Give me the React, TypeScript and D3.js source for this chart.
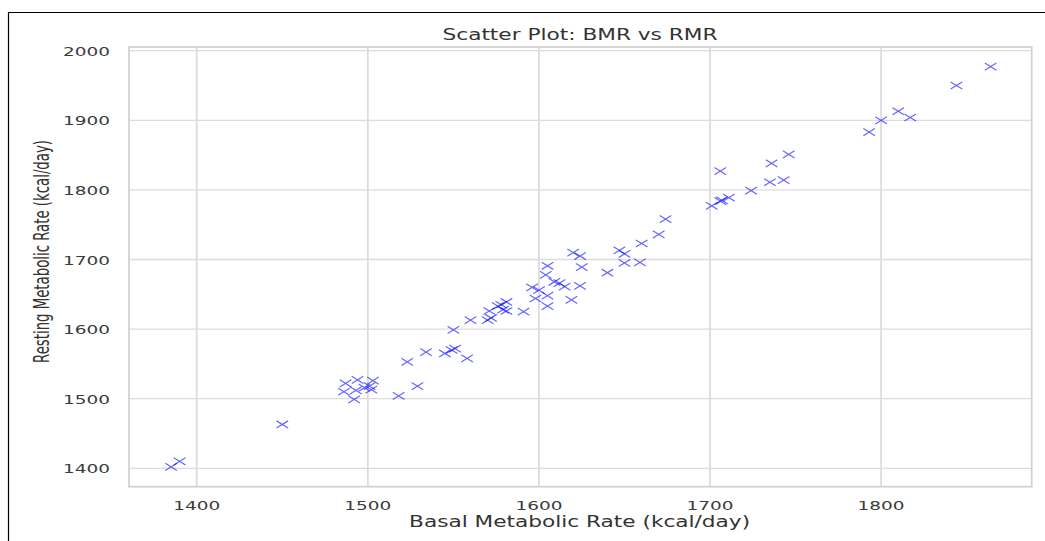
import React, { useEffect, useRef } from 'react';
import * as d3 from 'd3';

// Basal vs resting metabolic rate, one entry per person
const bmr = [
  1385, 1390, 1450, 1487, 1494, 1503, 1486, 1492, 1493, 1498, 1501, 1502, 1518, 1529,
  1523, 1534, 1545, 1549, 1551, 1558, 1550, 1560, 1571, 1570, 1572, 1576, 1578, 1581,
  1581, 1579, 1591, 1596, 1598, 1600, 1605, 1604, 1605, 1605, 1609, 1612, 1615, 1619,
  1620, 1624, 1625, 1624, 1640, 1647, 1650, 1650, 1659, 1660, 1670, 1674, 1701, 1706,
  1707, 1711, 1706, 1724, 1735, 1743, 1736, 1746, 1793, 1800, 1810, 1817, 1844, 1864,
];
const rmr = [
  1402, 1410, 1463, 1522, 1527, 1526, 1510, 1499, 1512, 1516, 1518, 1513, 1504, 1518,
  1553, 1567, 1565, 1570, 1572, 1558, 1599, 1613, 1626, 1613, 1616, 1633, 1635, 1639,
  1626, 1628, 1625, 1660, 1644, 1656, 1691, 1678, 1648, 1633, 1668, 1666, 1661, 1642,
  1710, 1705, 1689, 1662, 1681, 1713, 1708, 1695, 1696, 1723, 1736, 1758, 1777, 1784,
  1785, 1789, 1827, 1799, 1811, 1814, 1838, 1851, 1883, 1900, 1913, 1904, 1950, 1977,
];
const xTicks = [1400, 1500, 1600, 1700, 1800];
const yTicks = [1400, 1500, 1600, 1700, 1800, 1900, 2000];

const App = () => {
  const svgRef = useRef<SVGSVGElement>(null);

  useEffect(() => {
    const width = 1045;
    const height = 541;
    const left = 129;
    const right = 1031.7;
    const top = 47;
    const bottom = 486.7;

    const svg = d3.select(svgRef.current);
    svg.selectAll('*').remove();
    svg.attr('width', width).attr('height', height);

    // page frame (only left and top edges show)
    svg.append('path')
      .attr('d', `M8.5,${height} V12.5 H${width}`)
      .attr('fill', 'none')
      .attr('stroke', '#000')
      .attr('stroke-width', 1.2);

    const x = d3.scaleLinear().domain([1360.4, 1888]).range([left, right]);
    const y = d3.scaleLinear().domain([1373.6, 2005.3]).range([bottom, top]);

    // grid
    svg.append('g')
      .selectAll('line')
      .data(xTicks)
      .join('line')
      .attr('x1', (d) => x(d))
      .attr('x2', (d) => x(d))
      .attr('y1', top)
      .attr('y2', bottom)
      .attr('stroke', '#dcdcdc')
      .attr('stroke-width', 1.8);

    svg.append('g')
      .selectAll('line')
      .data(yTicks)
      .join('line')
      .attr('x1', left)
      .attr('x2', right)
      .attr('y1', (d) => y(d))
      .attr('y2', (d) => y(d))
      .attr('stroke', '#dcdcdc')
      .attr('stroke-width', 1.3);

    // spines
    svg.append('rect')
      .attr('x', left)
      .attr('y', top)
      .attr('width', right - left)
      .attr('height', bottom - top)
      .attr('fill', 'none')
      .attr('stroke', '#d2d2d2')
      .attr('stroke-width', 1.8);

    // tick labels
    svg.append('g')
      .selectAll('text')
      .data(xTicks)
      .join('text')
      .attr('x', (d) => x(d))
      .attr('y', 509.5)
      .attr('text-anchor', 'middle')
      .attr('font-family', 'DejaVu Sans')
      .attr('font-size', 13)
      .attr('fill', '#3a3a3a')
      .attr('textLength', 47)
      .attr('lengthAdjust', 'spacingAndGlyphs')
      .text((d) => d);

    svg.append('g')
      .selectAll('text')
      .data(yTicks)
      .join('text')
      .attr('x', 110)
      .attr('y', (d) => y(d) + 5)
      .attr('text-anchor', 'end')
      .attr('font-family', 'DejaVu Sans')
      .attr('font-size', 13)
      .attr('fill', '#3a3a3a')
      .attr('textLength', 47)
      .attr('lengthAdjust', 'spacingAndGlyphs')
      .text((d) => d);

    // markers ('x')
    const pts = bmr.map((b, i) => [b, rmr[i]]);
    svg.append('g')
      .selectAll('path')
      .data(pts)
      .join('path')
      .attr('transform', (d) => `translate(${x(d[0])},${y(d[1])})`)
      .attr('d', 'M-5.8,-3.6L5.8,3.6M-5.8,3.6L5.8,-3.6')
      .attr('fill', 'none')
      .attr('stroke', '#0000ff')
      .attr('stroke-opacity', 0.6)
      .attr('stroke-width', 1.2);

    // title and axis labels
    svg.append('text')
      .attr('x', 580)
      .attr('y', 40)
      .attr('text-anchor', 'middle')
      .attr('font-family', 'DejaVu Sans')
      .attr('font-size', 16)
      .attr('fill', '#333')
      .attr('textLength', 275)
      .attr('lengthAdjust', 'spacingAndGlyphs')
      .text('Scatter Plot: BMR vs RMR');

    svg.append('text')
      .attr('x', 579.6)
      .attr('y', 527)
      .attr('text-anchor', 'middle')
      .attr('font-family', 'DejaVu Sans')
      .attr('font-size', 16)
      .attr('fill', '#333')
      .attr('textLength', 341)
      .attr('lengthAdjust', 'spacingAndGlyphs')
      .text('Basal Metabolic Rate (kcal/day)');

    svg.append('text')
      .attr('transform', 'translate(49,251.5) rotate(-90)')
      .attr('text-anchor', 'middle')
      .attr('font-family', 'DejaVu Sans')
      .attr('font-size', 22)
      .attr('fill', '#333')
      .attr('textLength', 223)
      .attr('lengthAdjust', 'spacingAndGlyphs')
      .text('Resting Metabolic Rate (kcal/day)');
  }, []);

  return (
    <svg
      ref={svgRef}
      style={{ position: 'absolute', left: 0, top: 0, background: '#fff' }}
    ></svg>
  );
};

export default App;
